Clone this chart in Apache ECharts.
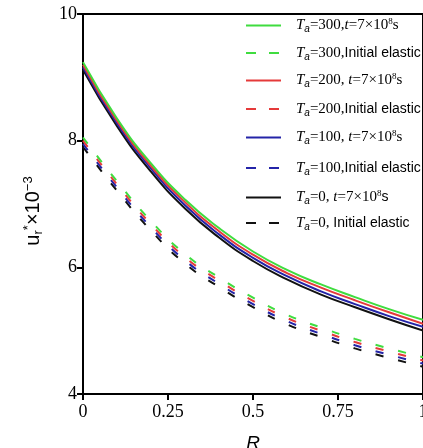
<!DOCTYPE html>
<html>
<head>
<meta charset="utf-8">
<script src="https://cdn.jsdelivr.net/npm/echarts@6/dist/echarts.min.js"></script>
<style>
  html, body { margin: 0; padding: 0; background: #fff; }
  #chart { width: 423px; height: 448px; }
</style>
</head>
<body>
<div id="chart"></div>
<script>
const rValues = [0, 0.1, 0.2, 0.3, 0.4, 0.5, 0.6, 0.7, 0.8, 0.9, 1.0];

// t = 7x10^8 s (solid)
const ta300Long = [9.24, 8.35, 7.64, 7.07, 6.62, 6.25, 5.96, 5.73, 5.53, 5.34, 5.17];
const ta200Long = [9.20, 8.31, 7.60, 7.03, 6.57, 6.20, 5.91, 5.68, 5.48, 5.29, 5.11];
const ta100Long = [9.16, 8.27, 7.56, 6.98, 6.52, 6.15, 5.86, 5.62, 5.42, 5.23, 5.06];
const ta0Long   = [9.12, 8.23, 7.51, 6.93, 6.47, 6.10, 5.81, 5.57, 5.37, 5.18, 5.00];

// initial elastic (dashed)
const ta300Init = [8.05, 7.36, 6.73, 6.21, 5.84, 5.52, 5.25, 5.05, 4.87, 4.72, 4.58];
const ta200Init = [8.00, 7.31, 6.68, 6.16, 5.79, 5.47, 5.20, 5.00, 4.82, 4.67, 4.53];
const ta100Init = [7.95, 7.26, 6.63, 6.11, 5.74, 5.42, 5.15, 4.95, 4.77, 4.62, 4.48];
const ta0Init   = [7.90, 7.21, 6.58, 6.06, 5.69, 5.37, 5.10, 4.90, 4.72, 4.57, 4.43];

const xTicks = [0, 0.25, 0.5, 0.75, 1];
const yTicks = [4, 6, 8, 10];

const GREEN = '#3fdc3f';
const RED = '#e53a3a';
const BLUE = '#2424a8';
const BLACK = '#111111';

// legend rows
const legendNames = ['s300', 'd300', 's200', 'd200', 's100', 'd100', 's0', 'd0'];
const legendLabels = [
  '{it|T}{sub|a}{tm|=300,}{it|t}{tm|=7×10}{sup|8}{tm|s}',
  '{it|T}{sub|a}{tm|=300,}{ar|Initial elastic}',
  '{it|T}{sub|a}{tm|=200, }{it|t}{tm|=7×10}{sup|8}{tm|s}',
  '{it|T}{sub|a}{tm|=200,}{ar|Initial elastic}',
  '{it|T}{sub|a}{tm|=100, }{it|t}{tm|=7×10}{sup|8}{tm|s}',
  '{it|T}{sub|a}{tm|=100,}{ar|Initial elastic}',
  '{it|T}{sub|a}{tm|=0, }{it|t}{tm|=7×10}{sup|8}{ar|s}',
  '{it|T}{sub|a}{tm|=0, }{ar|Initial elastic}',
];
const legendRowY = [27, 55, 82, 111, 139, 170, 199, 225];

function pairs(values) {
  return rValues.map((r, i) => [r, values[i]]);
}

function makeSeries(name, values, color, dashed) {
  return {
    name: name,
    type: 'line',
    smooth: true,
    symbol: 'none',
    data: pairs(values),
    lineStyle: { color: color, width: 2, type: dashed ? [8, 15] : 'solid' },
    itemStyle: { color: color },
    z: 3,
  };
}

const serif = '"Liberation Serif", "Times New Roman", serif';
const sans = '"Liberation Sans", Arial, sans-serif';

const legendRich = {
  gap: { width: 10 },
  it: { fontFamily: serif, fontStyle: 'italic', fontSize: 15, color: '#000' },
  sub: { fontFamily: sans, fontStyle: 'italic', fontSize: 10, color: '#000', padding: [8, 0, 0, 0] },
  tm: { fontFamily: serif, fontSize: 15, color: '#000' },
  sup: { fontFamily: serif, fontSize: 9, color: '#000', padding: [0, 0, 8, 0] },
  ar: { fontFamily: sans, fontSize: 14, color: '#000' },
};

const legends = legendNames.map((name, i) => ({
  orient: 'vertical',
  left: 245,
  top: legendRowY[i] - 10,
  padding: 0,
  itemWidth: 35,
  itemHeight: 20,
  itemGap: 0,
  data: [name],
  itemStyle: { color: 'rgba(0,0,0,0)', borderWidth: 0, opacity: 0 },
  lineStyle: name.charAt(0) === 'd' ? { type: [10, 13], width: 2 } : { width: 2 },
  formatter: () => '{gap|}' + legendLabels[i],
  textStyle: { rich: legendRich },
}));

const chart = echarts.init(document.getElementById('chart'));

chart.setOption({
  animation: false,
  grid: {
    left: 83, right: 0, top: 14, bottom: 54,
    outerBoundsMode: 'none',
    containLabel: false,
    show: true, borderColor: '#000', borderWidth: 2,
  },
  legend: legends,
  xAxis: {
    type: 'value',
    min: 0,
    max: 1,
    interval: 0.25,
    name: 'R',
    nameLocation: 'middle',
    nameGap: 40,
    nameTextStyle: { fontFamily: sans, fontStyle: 'italic', fontSize: 19, color: '#000' },
    axisLine: { lineStyle: { color: '#000', width: 2 } },
    axisTick: { length: 6, lineStyle: { color: '#000', width: 2 } },
    axisLabel: {
      fontFamily: serif, fontSize: 18, color: '#000', margin: 9,
      customValues: xTicks,
      formatter: (v) => String(v),
    },
    splitLine: { show: false },
  },
  yAxis: {
    type: 'value',
    min: 4,
    max: 10,
    interval: 2,
    name: '{u|u}{sub|r}{sup|*}{u|×10}{sup|−3}',
    nameLocation: 'middle',
    nameGap: 38,
    nameRotate: 90,
    nameTextStyle: {
      padding: [0, 14, 0, 0],
      rich: {
        u: { fontFamily: sans, fontSize: 20, color: '#000' },
        sub: { fontFamily: sans, fontSize: 13, color: '#000', padding: [10, 0, 0, 0] },
        sup: { fontFamily: sans, fontSize: 13, color: '#000', padding: [0, 0, 10, 0] },
      },
    },
    axisLine: { lineStyle: { color: '#000', width: 2 } },
    axisTick: { length: 6, lineStyle: { color: '#000', width: 2 } },
    axisLabel: {
      fontFamily: serif, fontSize: 18, color: '#000', margin: 6,
      customValues: yTicks,
    },
    splitLine: { show: false },
  },
  series: [
    makeSeries('s0', ta0Long, BLACK, false),
    makeSeries('s100', ta100Long, BLUE, false),
    makeSeries('s200', ta200Long, RED, false),
    makeSeries('s300', ta300Long, GREEN, false),
    makeSeries('d0', ta0Init, BLACK, true),
    makeSeries('d100', ta100Init, BLUE, true),
    makeSeries('d200', ta200Init, RED, true),
    makeSeries('d300', ta300Init, GREEN, true),
  ],
});
</script>
</body>
</html>
